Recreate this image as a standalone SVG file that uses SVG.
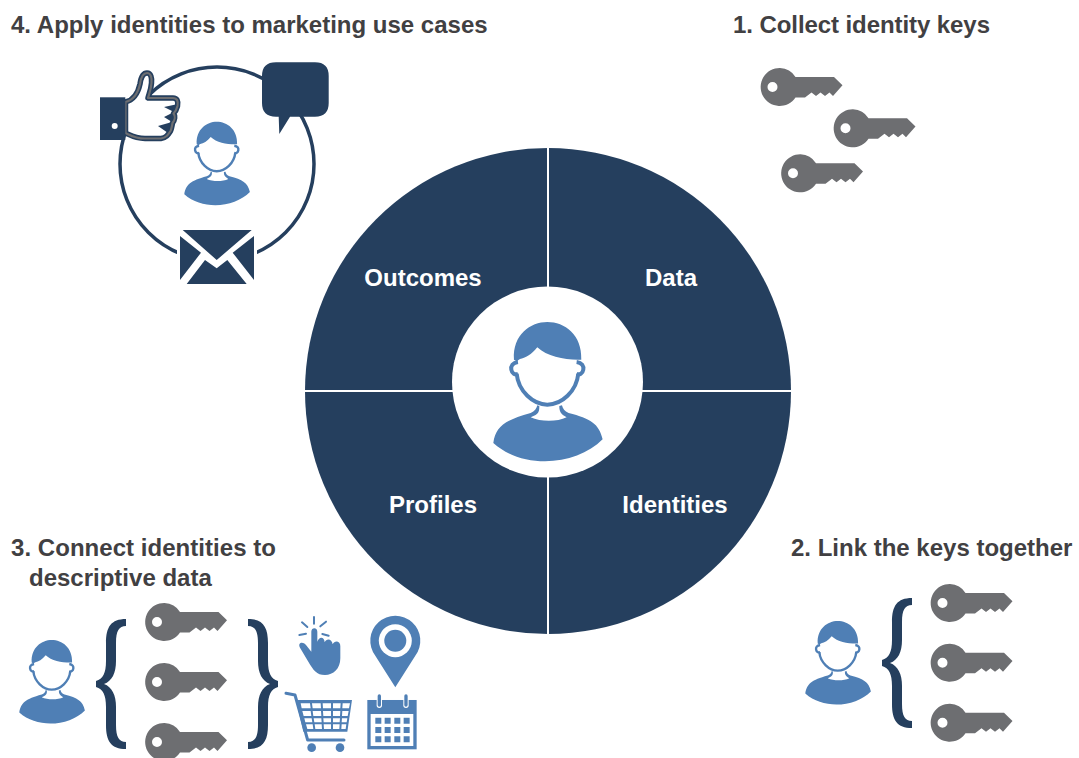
<svg xmlns="http://www.w3.org/2000/svg" xmlns:xlink="http://www.w3.org/1999/xlink" width="1079" height="758" viewBox="0 0 1079 758">
<style>
text{font-family:"Liberation Sans",Arial,sans-serif;font-weight:700;font-size:24px}
.h{fill:#414042}
.w{fill:#fff;text-anchor:middle}
.navy{fill:#253f5e}
.blue{fill:#4f7fb5}
.grey{fill:#6d6e71}
.sep{stroke:#fff;stroke-width:2;fill:none}
.bl{stroke:#4f7fb5;fill:none;stroke-linecap:round}
</style>
<defs>
<g id="key"><path class="grey" fill-rule="evenodd" d="M0-19A19 19 0 0 1 15.500-10H54L62.500-1.700L53 9L49.500 5.500L45 9L40.500 5.500L36 9L31.500 5.500L25 10.500H15.500A19 19 0 1 1 0-19ZM-7.500-5A5 5 0 1 0-7.500 5A5 5 0 1 0-7.500-5Z"/></g>
<g id="person">
<path class="blue" d="M-100 113C-105 38-50 0 0 0C52 0 105 38 102 113L92 113C48 113-2 103-30 76C-47 98-67 108-82 111L-92 118Z"/>
<g fill="none" stroke="#4f7fb5" stroke-width="12">
<path d="M-92 155C-87 208-42 248 0 248C43 248 88 208 93 155"/>
<path d="M-88 120C-104 122-110 132-108 143C-106 155-97 159-88 156"/>
<path d="M88 120C104 122 110 132 108 143C106 155 97 159 88 156"/>
</g>
<path class="blue" d="M-162 363C-155 315-130 295-50 273C-38 268-32 260-30 250L-24 252C-24 268-24 276-50 286C-20 300 30 300 58 286C40 276 36 268 36 252L44 250C46 260 52 268 64 273C130 290 155 305 166 352C90 430-70 445-162 363Z"/>
</g>
</defs>
<g id="connectors"></g>
<g id="wheel">
<circle class="navy" cx="548" cy="391" r="243"/>
<path class="sep" d="M548 148V634M305 391H791"/>
<circle cx="547.500" cy="382" r="95.500" fill="#fff"/>
<use xlink:href="#person" href="#person" transform="translate(547.300 322) scale(.3333)"/>
<text class="w" x="423" y="286">Outcomes</text>
<text class="w" x="671" y="286">Data</text>
<text class="w" x="433" y="513">Profiles</text>
<text class="w" x="675" y="513">Identities</text>
</g>
<g id="step1">
<text class="h" x="733" y="33" textLength="257">1. Collect identity keys</text>
<use href="#key" transform="translate(780 87)"/>
<use href="#key" transform="translate(853 128.300)"/>
<use href="#key" transform="translate(800.500 173.300)"/>
</g>
<g id="step2">
<text class="h" x="791" y="556">2. Link the keys together</text>
<use href="#person" transform="translate(837.700 621) scale(.2)"/>
<path class="navy" d="M912 598C897 598 892 606 892 622V640C892 652 889 658 882 660V666C889 668 892 674 892 686V704C892 720 897 728 912 728V721C905 721 902 716 902 704V686C902 674 898 666 890 663C898 660 902 652 902 640V622C902 610 905 605 912 605Z"/>
<use href="#key" transform="translate(950 603)"/>
<use href="#key" transform="translate(950 662.700)"/>
<use href="#key" transform="translate(950 722.700)"/>
</g>
<g id="step3">
<text class="h" x="11" y="556" textLength="265">3. Connect identities to</text>
<text class="h" x="29" y="586">descriptive data</text>
<use href="#person" transform="translate(51.700 640) scale(.2)"/>
<path class="navy" d="M126 619C111 619 106 627 106 643V661C106 673 103 679 96 681V687C103 689 106 695 106 707V725C106 741 111 749 126 749V742C119 742 116 737 116 725V707C116 695 112 687 104 684C112 681 116 673 116 661V643C116 631 119 626 126 626Z"/>
<use href="#key" transform="translate(164.500 622)"/>
<use href="#key" transform="translate(164.500 682)"/>
<use href="#key" transform="translate(164.500 742)"/>
<path class="navy" d="M248 619C263 619 268 627 268 643V661C268 673 271 679 278 681V687C271 689 268 695 268 707V725C268 741 263 749 248 749V742C255 742 258 737 258 725V707C258 695 262 687 270 684C262 681 258 673 258 661V643C258 631 255 626 248 626Z"/>
<g id="hand" transform="translate(240 605) scale(.3333)">
<path class="bl" stroke-width="6" d="M222 36V56M186 52L202 66M258 50L241 64M178 90L198 86M266 92L247 87"/>
<path class="blue" d="M214 80C214 66 232 66 232 80V110C238 92 254 96 254 112C260 98 276 102 278 118C284 104 302 108 301 124V160C301 192 280 210 255 210C230 210 220 195 205 170L180 128C172 114 188 108 198 120L214 140Z"/>
</g>
<g id="pin">
<path class="blue" d="M375.300 655.700A25 25 0 1 1 415.300 655.700L395.300 687.300Z"/>
<circle cx="395.300" cy="640.700" r="16.500" fill="#fff"/>
<circle class="blue" cx="395.300" cy="640.700" r="11"/>
</g>
<g id="cart" transform="translate(240 605) scale(.3333)">
<path fill="none" stroke="#4f7fb5" stroke-width="9" stroke-linecap="round" stroke-linejoin="round" d="M138 265L165 270L203 405H312"/>
<path class="blue" d="M168 285H336L322 380H190Z"/>
<g fill="#fff">
<path d="M182 295H210L212 310H185ZM216 295H242L243 310H218ZM248 295H273L273 310H249ZM279 295H302L301 310H279ZM308 295H330L327 310H307Z"/>
<path d="M187 318H212L214 333H191ZM218 318H243L244 333H220ZM249 318H273L273 333H250ZM279 318H301L300 333H279ZM307 318H326L323 333H306Z"/>
<path d="M193 340H215L217 352H196ZM221 340H244L245 352H223ZM250 340H273L273 352H251ZM279 340H300L299 352H279ZM306 340H322L320 352H305Z"/>
<path d="M198 358H218L220 372H202ZM224 358H245L246 372H226ZM251 358H273L273 372H252ZM279 358H299L298 372H279ZM305 358H319L317 372H304Z"/>
</g>
<circle class="blue" cx="215" cy="428" r="13"/>
<circle class="blue" cx="300" cy="428" r="13"/>
</g>
<g id="calendar" transform="translate(240 605) scale(.3333)">
<rect class="blue" x="382" y="285" width="148" height="148"/>
<rect x="392" y="327" width="128" height="96" fill="#fff"/>
<g fill="#fff"><rect x="410" y="265" width="16" height="44" rx="8"/><rect x="490" y="265" width="16" height="44" rx="8"/></g>
<g class="blue"><rect x="413" y="268" width="10" height="37" rx="5"/><rect x="493" y="268" width="10" height="37" rx="5"/>
<path d="M406 338h18v18h-18zM434 338h18v18h-18zM463 338h18v18h-18zM491 338h18v18h-18zM406 366h18v18h-18zM434 366h18v18h-18zM463 366h18v18h-18zM491 366h18v18h-18zM406 394h18v18h-18zM434 394h18v18h-18zM463 394h18v18h-18zM491 394h18v18h-18z"/></g>
</g>
</g>
<g id="step4">
<text class="h" x="11" y="33">4. Apply identities to marketing use cases</text>
<circle cx="217" cy="164" r="97" fill="none" stroke="#253f5e" stroke-width="3.500"/>
<use href="#person" transform="translate(216.700 121.700) scale(.2)"/>
<g id="thumb">
<path d="M125.500 102C134 100 138 93 140 84C141 77 143 73 147 73C151 73 152 78 151.500 83C151 90 149 94 148 98H173C177 98 178.500 101 177.500 106C176.500 110 175 112 173.500 113.500C175.500 116 175 120 172.500 123C172 126 171.500 129 170.500 131C168 135 166 138 161 138.500H145C135 138.500 130 135 125.500 133Z" fill="#fff" stroke="#253f5e" stroke-width="5.500" stroke-linejoin="round"/>
<path d="M178 104L164 107L174 112L164 117L172 122L158 126L168 133L172 128Z" class="navy"/>
<path d="M125.500 102C134 100 138 93 140 84C141 77 143 73 147 73C151 73 152 78 151.500 83C151 90 149 94 148 98H173C177 98 178.500 101 177.500 106C176.500 110 175 112 173.500 113.500C175.500 116 175 120 172.500 123C172 126 171.500 129 170.500 131C168 135 166 138 161 138.500H145C135 138.500 130 135 125.500 133Z" fill="none" stroke="#6d6e71" stroke-width="2.200" stroke-linejoin="round"/>
<rect class="navy" x="100" y="97.300" width="25.300" height="42.700"/>
<circle cx="114.700" cy="126" r="3" fill="#fff"/>
</g>
<g id="bubble">
<path class="navy" d="M276 62.300H315Q328.700 62.300 328.700 76V103Q328.700 116.700 315 116.700H290L279.300 134L278.700 116.700H276Q262 116.700 262 103V76Q262 62.300 276 62.300Z"/>
</g>
<g id="mail">
<rect x="177" y="226" width="80" height="60" fill="#fff"/>
<path class="navy" d="M182.700 230H251.700L216.700 260ZM180 236L201 252.700L180 280ZM254 236L232.700 252.700L254 280ZM186.700 284L205 260L216.700 268.300L227.300 260L246.700 284Z"/>
</g>
</g>
</svg>
